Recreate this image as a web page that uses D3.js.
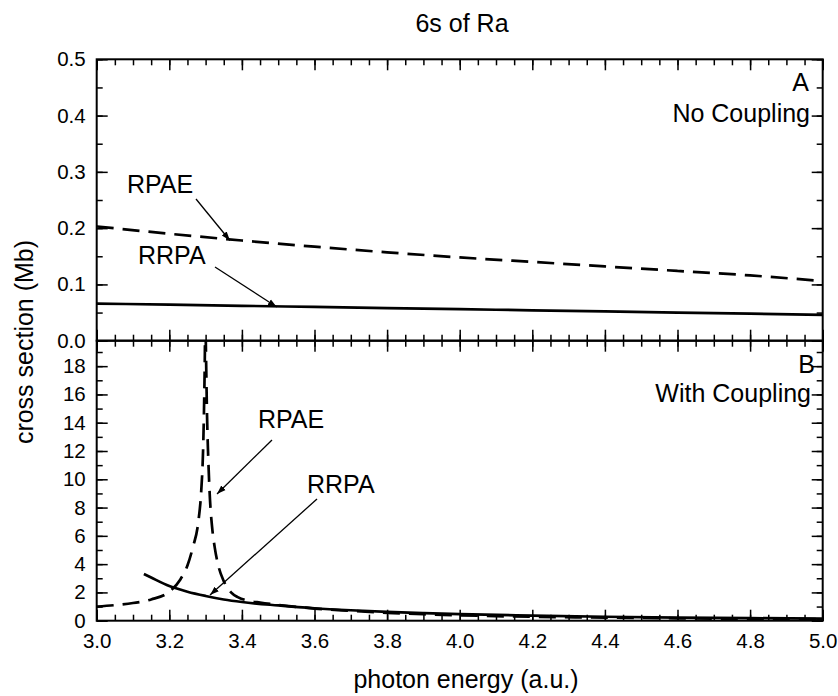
<!DOCTYPE html>
<html>
<head>
<meta charset="utf-8">
<script src="https://cdn.jsdelivr.net/npm/d3@7"></script>
<style>
  html, body { margin: 0; padding: 0; background: #fff; }
  svg { display: block; font-family: "Liberation Sans", Arial, sans-serif; }
</style>
</head>
<body>
<svg id="chart" width="838" height="696"></svg>
<script>
// Photoionization cross section of the 6s subshell of Ra
// Panel A: no coupling, Panel B: with coupling

const energyTicks = [3.0, 3.2, 3.4, 3.6, 3.8, 4.0, 4.2, 4.4, 4.6, 4.8, 5.0];
const topTicks = [0.0, 0.1, 0.2, 0.3, 0.4, 0.5];
const bottomTicks = [0, 2, 4, 6, 8, 10, 12, 14, 16, 18];

// Panel A (no coupling)
const energyA = [3.0, 3.2, 3.4, 3.6, 3.8, 4.0, 4.2, 4.4, 4.6, 4.8, 5.0];
const rpaeA = [0.203, 0.190, 0.178, 0.167, 0.157, 0.148, 0.140, 0.132, 0.124, 0.116, 0.106];
const rrpaA = [0.066, 0.064, 0.062, 0.060, 0.058, 0.056, 0.054, 0.052, 0.050, 0.048, 0.046];

// Panel B (with coupling), RPAE resonance near 3.30 a.u.
const energyRpaeB = [3.00, 3.05, 3.10, 3.15, 3.20, 3.23, 3.25, 3.265, 3.28, 3.288, 3.293, 3.296, 3.298, 3.299,
                     3.301, 3.304, 3.308, 3.312, 3.318, 3.325, 3.335, 3.35, 3.37, 3.39, 3.42, 3.45, 3.5,
                     3.6, 3.7, 3.8, 3.9, 4.0, 4.2, 4.4, 4.6, 4.8, 5.0];
const rpaeB = [1.00, 1.10, 1.25, 1.50, 2.05, 2.9, 3.9, 5.2, 7.0, 9.2, 12.0, 15.5, 19.0, 22.0,
               19.0, 14.5, 11.0, 8.6, 6.6, 5.2, 3.9, 2.8, 2.0, 1.65, 1.40, 1.28, 1.12,
               0.86, 0.70, 0.56, 0.46, 0.38, 0.28, 0.22, 0.17, 0.13, 0.11];
const energyRrpaB = [3.13, 3.15, 3.2, 3.25, 3.3, 3.35, 3.4, 3.5, 3.6, 3.7, 3.8, 3.9, 4.0, 4.2, 4.4, 4.6, 4.8, 5.0];
const rrpaB = [3.3, 3.05, 2.45, 2.05, 1.75, 1.5, 1.32, 1.08, 0.88, 0.74, 0.63, 0.54, 0.46, 0.36, 0.28, 0.22, 0.18, 0.15];

const svg = d3.select("#chart");

const left = 96.7, right = 822.7;
const topY0 = 59.3, midY = 340.7, botY = 620.7;

const x = d3.scaleLinear().domain([3.0, 5.0]).range([left, right]);
const yA = d3.scaleLinear().domain([0, 0.5]).range([midY, topY0]);
const yB = d3.scaleLinear().domain([0, 19.8]).range([botY, midY]);

const minorX = d3.range(3.0, 5.0001, 0.05);
const minorA = d3.range(0, 0.5001, 0.05);
const minorB = d3.range(0, 19.8, 1);

const tickFont = 20.5, textFont = 25;
const majorLen = 11, minorLen = 6;

// clip regions per panel
const defs = svg.append("defs");
defs.append("clipPath").attr("id", "clipA").append("rect")
  .attr("x", left).attr("y", topY0).attr("width", right - left).attr("height", midY - topY0);
defs.append("clipPath").attr("id", "clipB").append("rect")
  .attr("x", left).attr("y", midY).attr("width", right - left).attr("height", botY - midY);
defs.append("marker").attr("id", "arrow")
  .attr("viewBox", "0 0 10 10").attr("refX", 10).attr("refY", 5)
  .attr("markerWidth", 9).attr("markerHeight", 9).attr("markerUnits", "userSpaceOnUse")
  .attr("orient", "auto")
  .append("path").attr("d", "M0,1.5 L10,5 L0,8.5 Z").attr("fill", "#000");

function styleAxis(g) {
  g.select(".domain").remove();
  g.selectAll(".tick line").attr("stroke", "#000").attr("stroke-width", 1.5);
  g.selectAll(".tick text").attr("fill", "#000").attr("font-size", tickFont)
    .attr("font-family", "Liberation Sans, Arial, sans-serif");
}

// ---- Panel A axes ----
svg.append("g").attr("transform", `translate(${left},0)`)
  .call(d3.axisLeft(yA).tickValues(topTicks).tickSize(-majorLen).tickPadding(11).tickFormat(d3.format(".1f")))
  .call(styleAxis);
svg.append("g").attr("transform", `translate(${left},0)`)
  .call(d3.axisLeft(yA).tickValues(minorA).tickSize(-minorLen).tickFormat(""))
  .call(styleAxis);
svg.append("g").attr("transform", `translate(${right},0)`)
  .call(d3.axisRight(yA).tickValues(topTicks).tickSize(-majorLen).tickFormat(""))
  .call(styleAxis);
svg.append("g").attr("transform", `translate(${right},0)`)
  .call(d3.axisRight(yA).tickValues(minorA).tickSize(-minorLen).tickFormat(""))
  .call(styleAxis);
svg.append("g").attr("transform", `translate(0,${topY0})`)
  .call(d3.axisTop(x).tickValues(energyTicks).tickSize(-majorLen).tickFormat(""))
  .call(styleAxis);
svg.append("g").attr("transform", `translate(0,${topY0})`)
  .call(d3.axisTop(x).tickValues(minorX).tickSize(-minorLen).tickFormat(""))
  .call(styleAxis);
// shared boundary: ticks point into both panels
svg.append("g").attr("transform", `translate(0,${midY})`)
  .call(d3.axisBottom(x).tickValues(energyTicks).tickSize(-majorLen).tickFormat(""))
  .call(styleAxis);
svg.append("g").attr("transform", `translate(0,${midY})`)
  .call(d3.axisBottom(x).tickValues(minorX).tickSize(-minorLen).tickFormat(""))
  .call(styleAxis);
svg.append("g").attr("transform", `translate(0,${midY})`)
  .call(d3.axisTop(x).tickValues(energyTicks).tickSize(-majorLen).tickFormat(""))
  .call(styleAxis);
svg.append("g").attr("transform", `translate(0,${midY})`)
  .call(d3.axisTop(x).tickValues(minorX).tickSize(-minorLen).tickFormat(""))
  .call(styleAxis);

// ---- Panel B axes ----
svg.append("g").attr("transform", `translate(${left},0)`)
  .call(d3.axisLeft(yB).tickValues(bottomTicks).tickSize(-majorLen).tickPadding(11).tickFormat(d3.format("d")))
  .call(styleAxis);
svg.append("g").attr("transform", `translate(${left},0)`)
  .call(d3.axisLeft(yB).tickValues(minorB).tickSize(-minorLen).tickFormat(""))
  .call(styleAxis);
svg.append("g").attr("transform", `translate(${right},0)`)
  .call(d3.axisRight(yB).tickValues(bottomTicks).tickSize(-majorLen).tickFormat(""))
  .call(styleAxis);
svg.append("g").attr("transform", `translate(${right},0)`)
  .call(d3.axisRight(yB).tickValues(minorB).tickSize(-minorLen).tickFormat(""))
  .call(styleAxis);
svg.append("g").attr("transform", `translate(0,${botY})`)
  .call(d3.axisBottom(x).tickValues(energyTicks).tickSize(-majorLen).tickPadding(13).tickFormat(d3.format(".1f")))
  .call(styleAxis);
svg.append("g").attr("transform", `translate(0,${botY})`)
  .call(d3.axisBottom(x).tickValues(minorX).tickSize(-minorLen).tickFormat(""))
  .call(styleAxis);

// frames
[[topY0, midY], [midY, botY]].forEach(([a, b]) => {
  svg.append("rect").attr("x", left).attr("y", a).attr("width", right - left).attr("height", b - a)
    .attr("fill", "none").attr("stroke", "#000").attr("stroke-width", 2);
});

// ---- curves ----
function curve(g, xs, ys, yScale, dashed) {
  const line = d3.line().x((d, i) => x(xs[i])).y(d => yScale(d)).curve(d3.curveMonotoneX);
  g.append("path").datum(ys).attr("d", line)
    .attr("fill", "none").attr("stroke", "#000").attr("stroke-width", 2.7)
    .attr("stroke-dasharray", dashed ? "17 9" : null);
}
const gA = svg.append("g").attr("clip-path", "url(#clipA)");
curve(gA, energyA, rpaeA, yA, true);
curve(gA, energyA, rrpaA, yA, false);
const gB = svg.append("g").attr("clip-path", "url(#clipB)");
curve(gB, energyRpaeB, rpaeB, yB, true);
curve(gB, energyRrpaB, rrpaB, yB, false);

// ---- annotations ----
function label(txt, px, py, anchor, size) {
  svg.append("text").attr("x", px).attr("y", py).attr("text-anchor", anchor || "start")
    .attr("font-size", size || textFont).attr("fill", "#000").text(txt);
}
function arrow(x1, y1, x2, y2) {
  svg.append("line").attr("x1", x1).attr("y1", y1).attr("x2", x2).attr("y2", y2)
    .attr("stroke", "#000").attr("stroke-width", 1.3).attr("marker-end", "url(#arrow)");
}

label("6s of Ra", 462, 32, "middle");
label("A", 809, 91, "end");
label("No Coupling", 810, 122, "end");
label("B", 815, 373, "end");
label("With Coupling", 811, 402, "end");

label("RPAE", 127, 193);
arrow(196, 199, x(3.367), yA(0.178));
label("RRPA", 138, 264);
arrow(215, 267, x(3.496), yA(0.060));

label("RPAE", 258, 428);
arrow(272, 440, 217, 494);
label("RRPA", 307, 493);
arrow(317, 499, 210, 595);

// axis titles
label("photon energy (a.u.)", 466, 688, "middle");
svg.append("text").attr("transform", `translate(33,342) rotate(-90)`)
  .attr("text-anchor", "middle").attr("font-size", textFont).attr("fill", "#000")
  .text("cross section (Mb)");
</script>
</body>
</html>
